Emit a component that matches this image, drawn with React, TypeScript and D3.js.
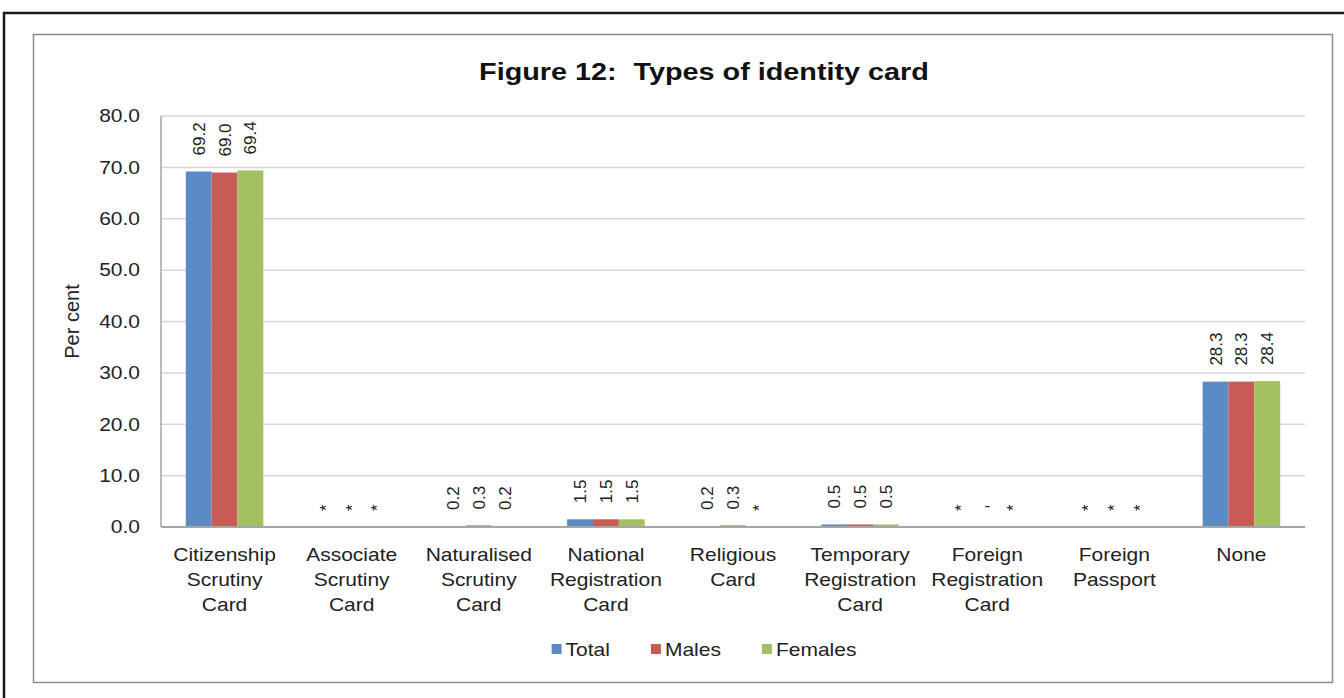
import { useEffect, useRef } from 'react';
import * as d3 from 'd3';

const categories = [
  'Citizenship Scrutiny Card',
  'Associate Scrutiny Card',
  'Naturalised Scrutiny Card',
  'National Registration Card',
  'Religious Card',
  'Temporary Registration Card',
  'Foreign Registration Card',
  'Foreign Passport',
  'None',
];
const seriesNames = ['Total', 'Males', 'Females'];
// null = "*" (less than 0.05), 0 = "-" (nil)
const totalValues = [69.2, null, 0.2, 1.5, 0.2, 0.5, null, null, 28.3];
const maleValues = [69.0, null, 0.3, 1.5, 0.3, 0.5, 0, null, 28.3];
const femaleValues = [69.4, null, 0.2, 1.5, null, 0.5, null, null, 28.4];
const yTicks = [0, 10, 20, 30, 40, 50, 60, 70, 80];

const COLORS = ['#5B8BC5', '#C75B56', '#A3C163'];
const FONT = '"Liberation Sans", Arial, sans-serif';
const SX = 1.2; // the picture's text is stretched sideways

const W = 1344;
const H = 698;

export default function App() {
  const svgRef = useRef<SVGSVGElement>(null);

  useEffect(() => {
    if (!svgRef.current) return;
    d3.select(svgRef.current).selectAll('*').remove();
    const svg = d3.select(svgRef.current);

    const left = 161, right = 1305, top = 116, bottom = 527;
    const allValues = [totalValues, maleValues, femaleValues];

    // outer black frame
    svg.append('path')
      .attr('d', `M4,${H} L4,13 L${W},13`)
      .attr('fill', 'none')
      .attr('stroke', '#1a1a1a')
      .attr('stroke-width', 2.5);

    // chart box
    svg.append('rect')
      .attr('x', 33.5).attr('y', 34.5)
      .attr('width', 1299).attr('height', 648)
      .attr('fill', '#fff')
      .attr('stroke', '#8c8c8c')
      .attr('stroke-width', 1.5);

    // title
    const title = svg.append('text')
      .attr('transform', `translate(704,80) scale(${SX},1)`)
      .attr('text-anchor', 'middle')
      .attr('font-family', FONT)
      .attr('font-size', 24)
      .attr('font-weight', 'bold')
      .attr('fill', '#111');
    title.append('tspan').text('Figure 12:');
    title.append('tspan').attr('dx', 14).text('Types of identity card');

    const y = d3.scaleLinear().domain([0, 80]).range([bottom, top]);
    const x0 = d3.scaleBand<string>()
      .domain(categories)
      .range([left, right])
      .paddingInner(0.39)
      .paddingOuter(0.195);
    const x1 = d3.scaleBand<string>()
      .domain(seriesNames)
      .range([0, x0.bandwidth()]);

    // gridlines
    svg.append('g')
      .selectAll('line')
      .data(yTicks.filter(t => t > 0))
      .enter()
      .append('line')
      .attr('x1', left).attr('x2', right)
      .attr('y1', d => y(d)).attr('y2', d => y(d))
      .attr('stroke', '#d6d6d6')
      .attr('stroke-width', 1.5);

    // y tick labels
    svg.append('g')
      .selectAll('text')
      .data(yTicks)
      .enter()
      .append('text')
      .attr('transform', d => `translate(140,${y(d)}) scale(${SX},1)`)
      .attr('dy', '0.36em')
      .attr('text-anchor', 'end')
      .attr('font-family', FONT)
      .attr('font-size', 17.5)
      .attr('fill', '#222')
      .text(d => d.toFixed(1));

    // y title
    svg.append('text')
      .attr('transform', `translate(72, ${(top + bottom) / 2}) rotate(-90)`)
      .attr('dy', '0.35em')
      .attr('text-anchor', 'middle')
      .attr('font-family', FONT)
      .attr('font-size', 20)
      .attr('fill', '#222')
      .text('Per cent');

    // bars
    const groups = svg.append('g')
      .selectAll('g')
      .data(categories)
      .enter()
      .append('g')
      .attr('transform', d => `translate(${x0(d)},0)`);

    groups.selectAll('rect')
      .data((_, i) => seriesNames.map((s, k) => ({ s, k, v: allValues[k][i] })))
      .enter()
      .append('rect')
      .attr('x', d => x1(d.s)!)
      .attr('width', x1.bandwidth())
      .attr('y', d => y(d.v ?? 0))
      .attr('height', d => bottom - y(d.v ?? 0))
      .attr('fill', d => COLORS[d.k]);

    // data labels
    groups.selectAll('text')
      .data((_, i) => seriesNames.map((s, k) => ({ s, k, v: allValues[k][i] })))
      .enter()
      .append('text')
      .attr('transform', d => {
        const cx = x1(d.s)! + x1.bandwidth() / 2;
        const ty = y(d.v ?? 0) - 16;
        return d.v === 0 ? `translate(${cx},${ty})` : `translate(${cx},${ty}) rotate(-90)`;
      })
      .attr('dy', d => (d.v === 0 ? '0' : '0.35em'))
      .attr('text-anchor', d => (d.v === 0 ? 'middle' : 'start'))
      .attr('font-family', FONT)
      .attr('font-size', 17)
      .attr('fill', '#222')
      .text(d => (d.v === null ? '*' : d.v === 0 ? '-' : d.v.toFixed(1)));

    // axes lines
    svg.append('line')
      .attr('x1', left).attr('x2', left)
      .attr('y1', top).attr('y2', bottom)
      .attr('stroke', '#a6a6a6').attr('stroke-width', 1.5);
    svg.append('line')
      .attr('x1', left).attr('x2', right)
      .attr('y1', bottom).attr('y2', bottom)
      .attr('stroke', '#a6a6a6').attr('stroke-width', 2);

    // category labels, one word per line
    svg.append('g')
      .selectAll('text')
      .data(categories)
      .enter()
      .append('text')
      .attr('transform', d => `translate(${x0(d)! + x0.bandwidth() / 2},0) scale(${SX},1)`)
      .attr('text-anchor', 'middle')
      .attr('font-family', FONT)
      .attr('font-size', 17.5)
      .attr('fill', '#222')
      .each(function (d) {
        d.split(' ').forEach((word, li) => {
          d3.select(this).append('tspan')
            .attr('x', 0)
            .attr('y', 561 + li * 25)
            .text(word);
        });
      });

    // legend
    const legend = svg.append('g');
    let lx = 0;
    seriesNames.forEach((name, i) => {
      const item = legend.append('g').attr('transform', `translate(${lx},0)`);
      item.append('rect')
        .attr('x', 0).attr('y', -12)
        .attr('width', 10).attr('height', 10)
        .attr('fill', COLORS[i]);
      const t = item.append('text')
        .attr('transform', `translate(14,0) scale(${SX},1)`)
        .attr('font-family', FONT)
        .attr('font-size', 17.5)
        .attr('fill', '#222')
        .text(name);
      const tw = (t.node() as SVGTextElement).getComputedTextLength() * SX;
      lx += 14 + tw + 41;
    });
    const legendWidth = lx - 41;
    legend.attr('transform', `translate(${704 - legendWidth / 2}, 656)`);
  }, []);

  return (
    <svg
      ref={svgRef}
      width={W}
      height={H}
      style={{ position: 'absolute', left: 0, top: 0, background: '#fff' }}
    />
  );
}
